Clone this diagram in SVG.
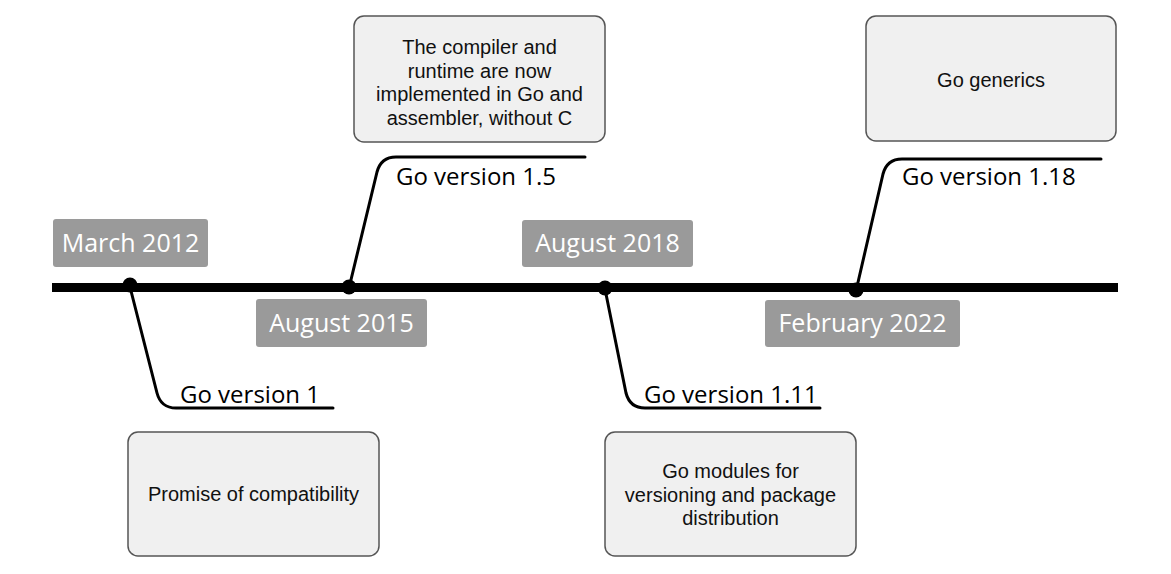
<svg xmlns="http://www.w3.org/2000/svg" width="1171" height="574" viewBox="0 0 1171 574">
  <style>
    .date rect { fill: #9a9a9a; }
    .date text { fill: #ffffff; font-family: "Open Sans", "Liberation Sans", sans-serif; font-size: 25px; text-anchor: middle; }
    .note rect { fill: #f0f0f0; stroke: #555555; stroke-width: 1.5; }
    .note text { fill: #111111; font-family: "Liberation Sans", Arial, sans-serif; font-size: 20px; text-anchor: middle; }
    .ver { fill: #000000; font-family: "Open Sans", "Liberation Sans", sans-serif; font-size: 24px; }
    .leader { fill: none; stroke: #000000; stroke-width: 3; stroke-linecap: round; stroke-linejoin: round; }
  </style>
  <rect width="1171" height="574" fill="#ffffff"/>

  <!-- timeline axis and leaders -->
  <g id="connectors">
    <line x1="52" y1="287.5" x2="1118" y2="287.5" stroke="#000" stroke-width="9"/>
    <path class="leader" d="M130,287 L157,393 Q161,408 176,408 L333,408"/>
    <path class="leader" d="M349,288 L377,172 Q381,157 396,157 L585,157"/>
    <path class="leader" d="M605,289 L626,393 Q630,408 645,408 L820,408"/>
    <path class="leader" d="M856,291 L883,174 Q887,159 902,159 L1101,159"/>
    <circle cx="130" cy="285" r="7.5" fill="#000"/>
    <circle cx="349" cy="287" r="7.5" fill="#000"/>
    <circle cx="605" cy="288" r="7.5" fill="#000"/>
    <circle cx="856" cy="290" r="7.5" fill="#000"/>
  </g>

  <!-- date labels -->
  <g id="date-2012" class="date">
    <rect x="53" y="219" width="155" height="48" rx="3"/>
    <text x="130.5" y="252">March 2012</text>
  </g>
  <g id="date-2015" class="date">
    <rect x="256" y="299" width="171" height="48" rx="3"/>
    <text x="341.5" y="332">August 2015</text>
  </g>
  <g id="date-2018" class="date">
    <rect x="522" y="220" width="171" height="47" rx="3"/>
    <text x="607.5" y="252">August 2018</text>
  </g>
  <g id="date-2022" class="date">
    <rect x="765" y="300" width="195" height="47" rx="3"/>
    <text x="862.5" y="332">February 2022</text>
  </g>

  <!-- version labels -->
  <g id="ver-1"><text class="ver" x="180" y="403">Go version 1</text></g>
  <g id="ver-1-5"><text class="ver" x="396" y="185">Go version 1.5</text></g>
  <g id="ver-1-11"><text class="ver" x="644" y="403">Go version 1.11</text></g>
  <g id="ver-1-18"><text class="ver" x="902" y="185">Go version 1.18</text></g>

  <!-- release notes -->
  <g id="note-1-5" class="note">
    <rect x="354" y="16" width="251" height="126" rx="10"/>
    <text x="479.5" y="54">The compiler and</text>
    <text x="479.5" y="77.5">runtime are now</text>
    <text x="479.5" y="101">implemented in Go and</text>
    <text x="479.5" y="124.5">assembler, without C</text>
  </g>
  <g id="note-1-18" class="note">
    <rect x="866" y="16" width="250" height="125" rx="10"/>
    <text x="991" y="87">Go generics</text>
  </g>
  <g id="note-1" class="note">
    <rect x="128" y="432" width="251" height="124" rx="10"/>
    <text x="253.5" y="501">Promise of compatibility</text>
  </g>
  <g id="note-1-11" class="note">
    <rect x="605" y="432" width="251" height="124" rx="10"/>
    <text x="730.5" y="478">Go modules for</text>
    <text x="730.5" y="501.5">versioning and package</text>
    <text x="730.5" y="525">distribution</text>
  </g>
</svg>
